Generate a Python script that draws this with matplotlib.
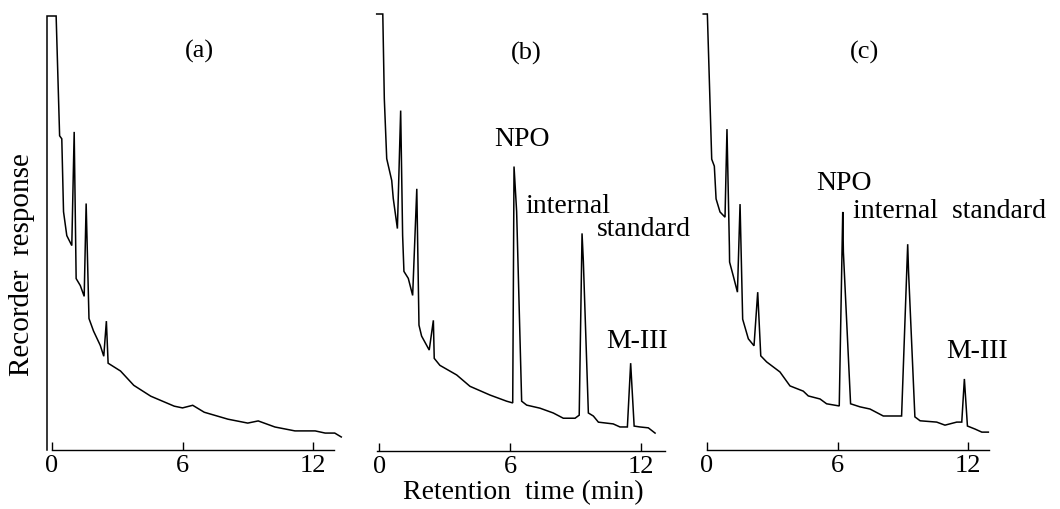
import matplotlib as mpl
mpl.use('Agg')
import matplotlib.pyplot as plt

plt.rcParams['font.family'] = ['Liberation Serif', 'DejaVu Serif']

# retention time (min) and recorder response (% of full scale)
time_a = [-0.23, -0.23, 0.19, 0.35, 0.45, 0.53, 0.68, 0.91, 1.02, 1.11, 1.30, 1.48,
          1.57, 1.70, 1.91, 2.22, 2.38, 2.50, 2.58, 3.15, 3.76, 4.54, 5.62, 6.00,
          6.47, 7.00, 8.09, 9.00, 9.48, 10.25, 11.17, 12.10, 12.56, 13.00, 13.30]
resp_a = [0.0, 100.0, 100.0, 72.4, 71.7, 54.9, 49.4, 47.1, 73.3, 39.5, 37.9, 35.4,
          56.8, 30.3, 27.4, 24.1, 21.6, 29.7, 20.0, 18.2, 14.9, 12.4, 10.1, 9.7,
          10.3, 8.7, 7.1, 6.2, 6.7, 5.3, 4.4, 4.4, 3.9, 3.9, 3.0]

time_b = [-0.12, 0.16, 0.23, 0.34, 0.57, 0.64, 0.83, 0.98, 1.07, 1.13, 1.33, 1.53,
          1.72, 1.82, 1.94, 2.29, 2.48, 2.52, 2.78, 3.55, 4.16, 5.08, 5.84, 6.12,
          6.18, 6.30, 6.53, 6.76, 7.37, 7.98, 8.44, 8.98, 9.17, 9.30, 9.36, 9.59,
          9.82, 10.05, 10.73, 11.04, 11.38, 11.53, 11.69, 11.96, 12.34, 12.65]
resp_b = [100.0, 100.0, 80.6, 66.9, 61.9, 57.8, 50.9, 77.9, 49.3, 41.1, 39.5, 35.6,
          60.0, 28.8, 26.3, 23.1, 29.9, 21.2, 19.6, 17.4, 14.8, 12.8, 11.4, 11.0,
          65.1, 54.8, 11.4, 10.5, 9.8, 8.7, 7.5, 7.5, 8.2, 49.8, 43.4, 8.7,
          8.0, 6.6, 6.2, 5.5, 5.5, 20.1, 5.7, 5.5, 5.3, 4.1]

time_c = [-0.16, 0.03, 0.23, 0.35, 0.43, 0.61, 0.84, 0.93, 1.04, 1.05, 1.22, 1.41,
          1.53, 1.65, 1.91, 2.17, 2.34, 2.48, 2.75, 3.36, 3.82, 4.43, 4.66, 5.20,
          5.50, 6.08, 6.24, 6.27, 6.60, 7.03, 7.49, 8.10, 8.94, 9.22, 9.26, 9.55,
          9.79, 10.55, 10.93, 11.47, 11.70, 11.82, 11.96, 12.31, 12.62, 12.92]
resp_c = [100.0, 100.0, 66.7, 65.1, 57.6, 54.6, 53.4, 73.6, 46.8, 43.1, 39.9, 36.2,
          56.4, 30.0, 25.5, 23.9, 36.2, 21.6, 20.2, 17.9, 14.7, 13.5, 12.4, 11.7,
          10.6, 10.1, 54.6, 45.4, 10.6, 9.9, 9.4, 7.8, 7.8, 47.2, 40.8, 7.6,
          6.7, 6.4, 5.7, 6.4, 6.4, 16.3, 5.5, 4.8, 4.1, 4.1]

panel_labels = ['(a)', '(b)', '(c)']
ticks = [0, 6, 12]

# (text, time, response, ha)
notes_b = [('NPO', 6.53, 71.5, 'center'),
           ('internal', 6.70, 56.2, 'left'),
           ('standard', 9.97, 50.9, 'left'),
           ('M-III', 11.80, 25.4, 'center')]
notes_c = [('NPO', 6.28, 61.4, 'center'),
           ('internal  standard', 6.70, 54.9, 'left'),
           ('M-III', 12.38, 22.8, 'center')]

W, H = 1060, 510
fig = plt.figure(figsize=(W / 100, H / 100), dpi=100)

# pixel geometry of each panel: x of t=0, px per minute, y of baseline, y of top
geom = [(52.0, 21.75, 451.0, 17.0),
        (379.3, 21.8, 452.0, 15.0),
        (706.7, 21.8, 451.0, 15.0)]
xmin, xmax = -0.5, 13.6
traces = [(time_a, resp_a), (time_b, resp_b), (time_c, resp_c)]
notes = [[], notes_b, notes_c]
axis_spans = [(0, 12.97), (-0.1, 13.1), (0, 12.97)]
label_pos = [(6.76, 92.0), (6.76, 91.3), (7.26, 91.5)]

for i in range(3):
    x0, ppm, ybase, ytop = geom[i]
    left = (x0 + xmin * ppm) / W
    width = (xmax - xmin) * ppm / W
    bottom = (H - ybase) / H
    height = (ybase - ytop) / H
    ax = fig.add_axes([left, bottom, width, height])
    t, r = traces[i]
    ax.plot(t, r, color='k', lw=1.1, solid_joinstyle='miter', clip_on=False)
    ax.set_xlim(xmin, xmax)
    ax.set_ylim(0, 100)
    for s in ['top', 'right', 'left']:
        ax.spines[s].set_visible(False)
    ax.spines['bottom'].set_bounds(*axis_spans[i])
    ax.spines['bottom'].set_linewidth(1.0)
    ax.set_yticks([])
    ax.set_xticks(ticks)
    ax.set_xticklabels([str(v) for v in ticks], fontsize=19)
    ax.tick_params(axis='x', direction='in', length=6, width=1.0, pad=3)
    ax.patch.set_visible(False)
    lx, ly = label_pos[i]
    ax.text(lx, ly, panel_labels[i], ha='center', va='center', fontsize=19)
    for txt, tx, ty, ha in notes[i]:
        ax.text(tx, ty, txt, ha=ha, va='center', fontsize=20)

fig.text(22 / W, 1 - 265 / H, 'Recorder  response', rotation=90,
         ha='center', va='center', fontsize=21)
fig.text(523 / W, 1 - 493 / H, 'Retention  time (min)',
         ha='center', va='center', fontsize=20)

fig.savefig('out.png', dpi=100)
